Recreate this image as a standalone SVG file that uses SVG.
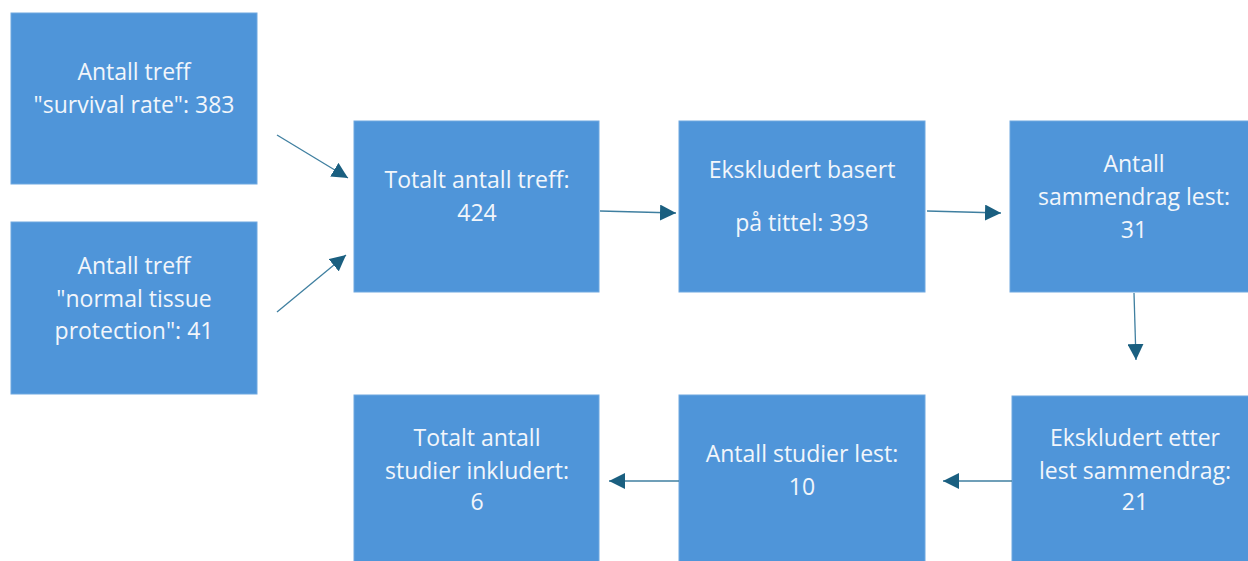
<svg xmlns="http://www.w3.org/2000/svg" width="1248" height="561" viewBox="0 0 1248 561">
<style>
.box{fill:#4f95d9;stroke:#6fa8e0;stroke-width:1}
.t{font-family:"Open Sans","Liberation Sans",sans-serif;font-size:23px;fill:#f2f6fb;text-anchor:middle}
.c{stroke:#3f7fa0;stroke-width:1.3;fill:none;marker-end:url(#ah)}
</style>
<defs>
<marker id="ah" markerUnits="userSpaceOnUse" markerWidth="18" markerHeight="16" refX="16" refY="8" orient="auto">
<path d="M0,0 L16,8 L0,16 Z" fill="#1a5f80"/>
</marker>
</defs>
<rect width="1248" height="561" fill="#ffffff"/>
<g id="n1"><rect class="box" x="11" y="13" width="246" height="171"/>
<text class="t" x="134" y="80">Antall treff</text>
<text class="t" x="134" y="113">"survival rate": 383</text></g>
<g id="n2"><rect class="box" x="11" y="222" width="246" height="172"/>
<text class="t" x="134" y="274">Antall treff</text>
<text class="t" x="134" y="307">"normal tissue</text>
<text class="t" x="134" y="339">protection": 41</text></g>
<g id="n3"><rect class="box" x="354" y="121" width="245" height="171"/>
<text class="t" x="477" y="188">Totalt antall treff:</text>
<text class="t" x="477" y="221">424</text></g>
<g id="n4"><rect class="box" x="679" y="121" width="246" height="171"/>
<text class="t" x="802" y="178">Ekskludert basert</text>
<text class="t" x="802" y="231">på tittel: 393</text></g>
<g id="n5"><rect class="box" x="1010" y="121" width="248" height="171"/>
<text class="t" x="1134" y="172">Antall</text>
<text class="t" x="1134" y="205">sammendrag lest:</text>
<text class="t" x="1134" y="238">31</text></g>
<g id="n6"><rect class="box" x="354" y="395" width="245" height="176"/>
<text class="t" x="477" y="446">Totalt antall</text>
<text class="t" x="477" y="479">studier inkludert:</text>
<text class="t" x="477" y="510">6</text></g>
<g id="n7"><rect class="box" x="679" y="395" width="246" height="176"/>
<text class="t" x="802" y="462">Antall studier lest:</text>
<text class="t" x="802" y="495">10</text></g>
<g id="n8"><rect class="box" x="1012" y="396" width="246" height="176"/>
<text class="t" x="1135" y="446">Ekskludert etter</text>
<text class="t" x="1135" y="479">lest sammendrag:</text>
<text class="t" x="1135" y="510">21</text></g>
<g id="connectors">
<line class="c" x1="277" y1="135" x2="348" y2="178"/>
<line class="c" x1="277" y1="312" x2="346" y2="255"/>
<line class="c" x1="600" y1="211" x2="676" y2="213"/>
<line class="c" x1="927" y1="211" x2="1001" y2="213"/>
<line class="c" x1="1134" y1="293" x2="1136" y2="360"/>
<line class="c" x1="1012" y1="481" x2="943" y2="481"/>
<line class="c" x1="679" y1="481" x2="609" y2="481"/>
</g>
</svg>
